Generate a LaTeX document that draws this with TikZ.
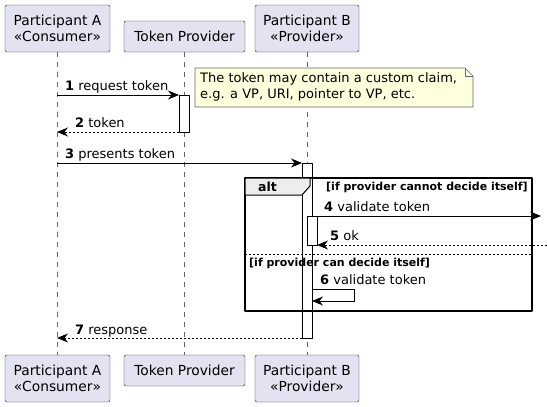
\documentclass[tikz,border=0pt]{standalone}
\usepackage{fontspec}
\setmainfont{DejaVu Sans}
\usetikzlibrary{arrows.meta}
\definecolor{partfill}{HTML}{E2E2F0}
\definecolor{notefill}{HTML}{FEFFDD}
\tikzset{
  part/.style={draw=black!85,fill=partfill,rounded corners=2pt,align=center,inner sep=0pt,font=\fontsize{13.8}{16}\selectfont},
  life/.style={draw=black!60,dash pattern=on 5pt off 5pt,line width=.8pt},
  msg/.style={-{Stealth[length=11pt,width=9pt,inset=3.5pt]},line width=.9pt},
  ret/.style={msg,dash pattern=on 2pt off 2pt},
  act/.style={draw,fill=white,line width=.9pt},
  lbl/.style={anchor=base west,inner sep=0pt,font=\fontsize{13}{15}\selectfont},
  cond/.style={anchor=base west,inner sep=0pt,font=\fontsize{11}{12}\selectfont\bfseries}
}
\begin{document}
\begin{tikzpicture}[x=1pt,y=-1pt,line join=round]
	\useasboundingbox (0,0) rectangle (547,407);
	% participants
	\node[part,minimum width=105pt,minimum height=47pt] (pa) at (57.5,28.5) {Participant A\\«Consumer»};
	\node[part,minimum width=121pt,minimum height=31pt] (tp) at (184.5,36.5) {Token Provider};
	\node[part,minimum width=104pt,minimum height=47pt] (pb) at (307,28.5) {Participant B\\«Provider»};
	\node[part,minimum width=105pt,minimum height=47pt] (pa2) at (57.5,378.5) {Participant A\\«Consumer»};
	\node[part,minimum width=121pt,minimum height=31pt] (tp2) at (184.5,370.5) {Token Provider};
	\node[part,minimum width=104pt,minimum height=47pt] (pb2) at (307,378.5) {Participant B\\«Provider»};
	\draw[life] (pa.south) -- (pa2.north);
	\draw[life] (tp.south) -- (tp2.north);
	\draw[life] (pb.south) -- (pb2.north);
	% note
	\draw[draw=black!60,fill=notefill,line width=.6pt] (195,68) -- (465,68) -- (473,76) -- (473,107) -- (195,107) -- cycle;
	\draw[draw=black!60,line width=.6pt] (465,68) -- (465,76) -- (473,76);
	\node[anchor=north west,align=left,inner sep=0pt,font=\fontsize{13}{16}\selectfont] (note) at (200,72) {The token may contain a custom claim,\\e.g. a VP, URI, pointer to VP, etc.};
	% activations
	\draw[act] (179,95) rectangle (189,132);
	\draw[act] (302,163) rectangle (312,338);
	% messages
	\coordinate (m1a) at (57,95);  \coordinate (m1b) at (179,95);
	\coordinate (m2a) at (179,132); \coordinate (m2b) at (57,132);
	\coordinate (m3a) at (57,163);  \coordinate (m3b) at (302,163);
	\draw[msg] (m1a) -- (m1b);
	\node[lbl] (l1) at (65,90) {\textbf{1} request token};
	\draw[ret] (m2a) -- (m2b);
	\node[lbl] (l2) at (75,127) {\textbf{2} token};
	\draw[msg] (m3a) -- (m3b);
	\node[lbl] (l3) at (65,158) {\textbf{3} presents token};
	% alt frame
	\draw[line width=1.5pt] (245,178) rectangle (532,311);
	\draw[line width=1pt,fill=black!7] (245,178) -- (310,178) -- (310,186) -- (302,195) -- (245,195) -- cycle;
	\node[cond,font=\fontsize{12.5}{14}\selectfont\bfseries] (alt) at (258,191) {alt};
	\node[cond] (c1) at (326,190) {[if provider cannot decide itself]};
	\draw[line width=.8pt,dash pattern=on 2pt off 2pt] (245,254) -- (532,254);
	\node[cond] (c2) at (249,266) {[if provider can decide itself]};
	\coordinate (m4a) at (312,216); \coordinate (m4b) at (541,216);
	\coordinate (m5a) at (547,245); \coordinate (m5b) at (317,245);
	\draw[msg] (m4a) -- (m4b);
	\node[lbl] (l4) at (324,211) {\textbf{4} validate token};
	\draw[act] (307,216) rectangle (317,245);
	\draw[ret] (m5a) -- (m5b);
	\node[lbl] (l5) at (330,240) {\textbf{5} ok};
	\coordinate (m6a) at (312,289); \coordinate (m6b) at (312,301);
	\draw[msg] (m6a) -- (354,289) -- (354,301) -- (m6b);
	\node[lbl] (l6) at (320,284) {\textbf{6} validate token};
	% response
	\coordinate (m7a) at (302,338); \coordinate (m7b) at (57,338);
	\draw[ret] (m7a) -- (m7b);
	\node[lbl] (l7) at (75,334) {\textbf{7} response};
\end{tikzpicture}
\end{document}
